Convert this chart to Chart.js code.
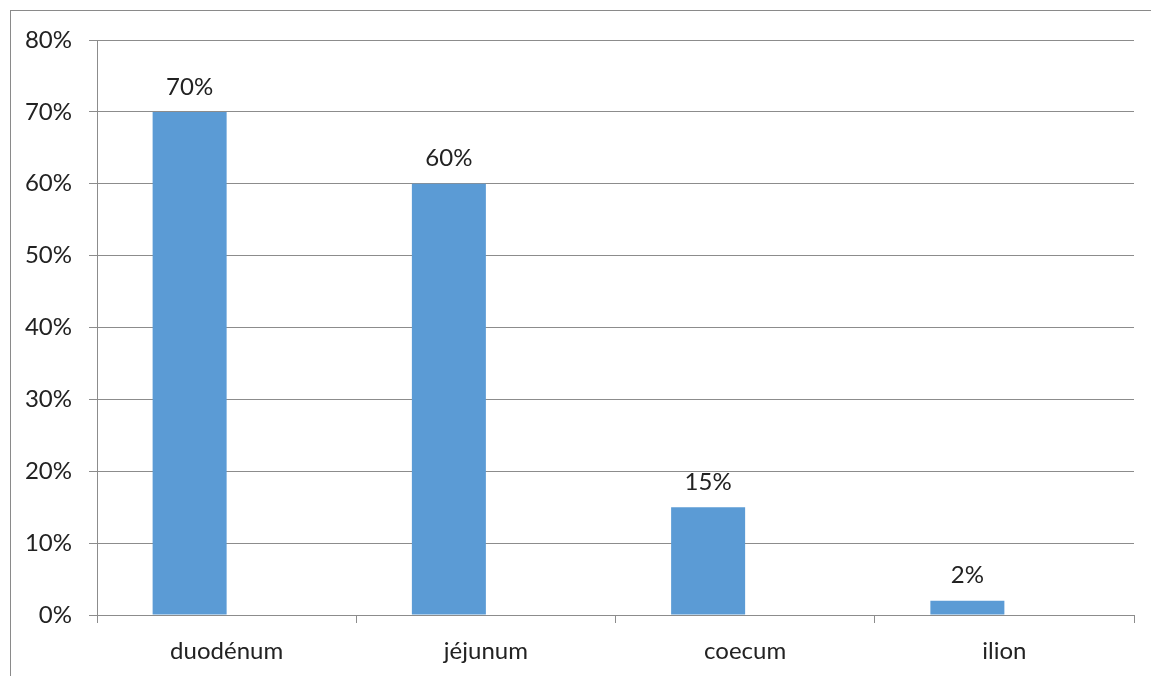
<!DOCTYPE html>
<html>
<head>
<meta charset="utf-8">
<script src="https://cdn.jsdelivr.net/npm/chart.js@4/dist/chart.umd.min.js"></script>
<style>
  html, body { margin: 0; padding: 0; background: #ffffff; }
  #wrap { position: relative; width: 1151px; height: 676px; }
</style>
</head>
<body>
<div id="wrap"><canvas id="chart" width="1151" height="676"></canvas></div>
<script>
// Segments of the digestive tract and their share (%)
const categories = ['duodénum', 'jéjunum', 'coecum', 'ilion'];
const shareValues = [70, 60, 15, 2];
const emptySeries = [null, null, null, null];
const yTickValues = [0, 10, 20, 30, 40, 50, 60, 70, 80];

const FONT = { family: 'Lato, "Open Sans", sans-serif', size: 24 };
const LINE = '#8c8c8c';
const TEXT = '#222222';

// Outer frame of the chart object
const framePlugin = {
  id: 'frame',
  beforeDraw(chart) {
    const ctx = chart.ctx;
    ctx.save();
    ctx.fillStyle = '#ffffff';
    ctx.fillRect(0, 0, chart.width, chart.height);
    ctx.strokeStyle = '#8a8a8a';
    ctx.lineWidth = 1;
    ctx.strokeRect(10.5, 10.5, chart.width + 20, chart.height + 20);
    ctx.restore();
  }
};

// Value labels above each bar
const valueLabels = {
  id: 'valueLabels',
  afterDatasetsDraw(chart) {
    const ctx = chart.ctx;
    const meta = chart.getDatasetMeta(0);
    ctx.save();
    ctx.font = FONT.size + 'px ' + FONT.family;
    ctx.fillStyle = TEXT;
    ctx.textAlign = 'center';
    ctx.textBaseline = 'middle';
    meta.data.forEach((bar, i) => {
      const v = chart.data.datasets[0].data[i];
      ctx.fillText(v + '%', bar.x, bar.y - 25);
    });
    ctx.restore();
  }
};

new Chart(document.getElementById('chart'), {
  type: 'bar',
  data: {
    labels: categories,
    datasets: [
      {
        data: shareValues,
        backgroundColor: '#5b9bd5',
        borderWidth: 0,
        categoryPercentage: 0.5709,
        barPercentage: 1.0
      },
      {
        data: emptySeries,
        backgroundColor: '#ed7d31',
        borderWidth: 0,
        categoryPercentage: 0.5709,
        barPercentage: 1.0
      }
    ]
  },
  options: {
    responsive: false,
    animation: false,
    devicePixelRatio: 1,
    layout: { padding: { top: 40, right: 17, bottom: 0, left: 0 } },
    plugins: {
      legend: { display: false },
      tooltip: { enabled: false }
    },
    scales: {
      x: {
        offset: true,
        grid: {
          offset: true,
          drawOnChartArea: false,
          drawTicks: true,
          tickLength: 8,
          color: LINE,
          lineWidth: 1
        },
        border: { display: true, color: LINE, width: 1 },
        ticks: {
          font: FONT,
          color: TEXT,
          padding: 14,
          maxRotation: 0
        },
        afterFit(scale) { scale.height = 61; }
      },
      y: {
        min: 0,
        max: 80,
        afterBuildTicks(scale) {
          scale.ticks = yTickValues.map(v => ({ value: v }));
        },
        grid: {
          drawOnChartArea: true,
          drawTicks: true,
          tickLength: 8,
          color: LINE,
          lineWidth: 1
        },
        border: { display: true, color: LINE, width: 1 },
        ticks: {
          font: FONT,
          color: TEXT,
          padding: 17,
          callback: v => v + '%'
        },
        afterFit(scale) { scale.width = 97; }
      }
    }
  },
  plugins: [framePlugin, valueLabels]
});
</script>
</body>
</html>
